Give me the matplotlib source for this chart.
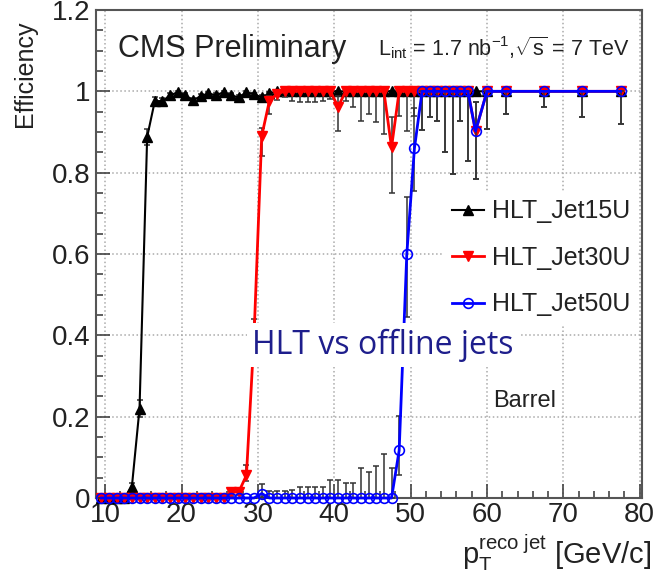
import numpy as np
import matplotlib
matplotlib.use("Agg")
import matplotlib.pyplot as plt
from matplotlib.ticker import MultipleLocator

plt.rcParams['font.family'] = ['Liberation Sans', 'DejaVu Sans']
plt.rcParams['mathtext.fontset'] = 'custom'
plt.rcParams['mathtext.rm'] = 'Liberation Sans'
plt.rcParams['mathtext.it'] = 'Liberation Sans:italic'

# bin centres (1 GeV bins up to 58, wider bins above)
pt = [9.5, 10.5, 11.5, 12.5, 13.5, 14.5, 15.5, 16.5, 17.5, 18.5, 19.5,
      20.5, 21.5, 22.5, 23.5, 24.5, 25.5, 26.5, 27.5, 28.5, 29.5,
      30.5, 31.5, 32.5, 33.5, 34.5, 35.5, 36.5, 37.5, 38.5, 39.5,
      40.5, 41.5, 42.5, 43.5, 44.5, 45.5, 46.5, 47.5, 48.5, 49.5,
      50.5, 51.5, 52.5, 53.5, 54.5, 55.5, 56.5, 57.5,
      58.5, 60.0, 62.5, 67.5, 72.5, 77.5]

# HLT_Jet15U
eff15 = [0, 0, 0, 0, 0.028, 0.22, 0.888, 0.976, 0.976, 0.99, 0.998,
         0.99, 0.978, 0.988, 0.995, 0.99, 0.998, 0.99, 0.985, 0.998, 0.993,
         0.985, 0.995, 1.0, 1.0, 1.0, 1.0, 1.0, 1.0, 1.0, 1.0,
         1.0, 1.0, 1.0, 1.0, 1.0, 1.0, 1.0, 1.0, 1.0, 1.0,
         1.0, 1.0, 1.0, 1.0, 1.0, 1.0, 1.0, 1.0,
         1.0, 1.0, 1.0, 1.0, 1.0, 1.0]
err15 = [0, 0, 0, 0, 0.01, 0.02, 0.02, 0.01, 0.008, 0.006, 0.004,
         0.005, 0.006, 0.005, 0.004, 0.005, 0.003, 0.005, 0.006, 0.003, 0.004,
         0.006, 0.004, 0, 0, 0, 0, 0, 0, 0, 0,
         0, 0, 0, 0, 0, 0, 0, 0, 0, 0,
         0, 0, 0, 0, 0, 0, 0, 0,
         0, 0, 0, 0, 0, 0]

# HLT_Jet30U
eff30 = [0, 0, 0, 0, 0, 0, 0, 0, 0, 0, 0,
         0, 0, 0, 0, 0, 0, 0.014, 0.015, 0.056, 0.40,
         0.89, 0.976, 0.994, 1.0, 1.0, 1.0, 1.0, 1.0, 1.0, 1.0,
         0.962, 1.0, 1.0, 1.0, 1.0, 1.0, 1.0, 0.862, 1.0, 1.0,
         1.0, 1.0, 1.0, 1.0, 1.0, 1.0, 1.0, 1.0,
         0.902, 1.0, 1.0, 1.0, 1.0, 1.0]
lo30 = [0, 0, 0, 0, 0, 0, 0, 0, 0, 0, 0,
        0, 0, 0, 0, 0, 0, 0.008, 0.008, 0.015, 0.05,
        0.05, 0.032, 0.015, 0.014, 0.023, 0.027, 0.027, 0.027, 0.023, 0.02,
        0.059, 0.023, 0.038, 0.073, 0.056, 0.076, 0.105, 0.111, 0.06, 0.097,
        0.06, 0.095, 0.063, 0.073, 0.15, 0.204, 0.073, 0.171,
        0.118, 0.093, 0.056, 0.039, 0.063, 0.08]
hi30 = [0, 0, 0, 0, 0, 0, 0, 0, 0, 0, 0,
        0, 0, 0, 0, 0, 0, 0.008, 0.008, 0.025, 0.04,
        0.02, 0.012, 0.005, 0, 0, 0, 0, 0, 0, 0,
        0.027, 0, 0, 0, 0, 0, 0, 0.075, 0, 0,
        0, 0, 0, 0, 0, 0, 0, 0,
        0.072, 0, 0, 0, 0, 0]

# HLT_Jet50U
eff50 = [0, 0, 0, 0, 0, 0, 0, 0, 0, 0, 0,
         0, 0, 0, 0, 0, 0, 0, 0, 0, 0,
         0.011, 0, 0, 0, 0, 0, 0, 0, 0, 0,
         0, 0, 0, 0, 0, 0, 0, 0, 0.117, 0.6,
         0.86, 1.0, 1.0, 1.0, 1.0, 1.0, 1.0, 1.0,
         0.902, 1.0, 1.0, 1.0, 1.0, 1.0]
lo50 = [0, 0, 0, 0, 0, 0, 0, 0, 0, 0, 0,
        0, 0, 0, 0, 0, 0, 0, 0, 0, 0,
        0.008, 0, 0, 0, 0, 0, 0, 0, 0, 0,
        0, 0, 0, 0, 0, 0, 0, 0, 0.06, 0.155,
        0.105, 0.095, 0.063, 0.073, 0.15, 0.204, 0.073, 0.171,
        0.118, 0.093, 0.056, 0.039, 0.063, 0.08]
hi50 = [0, 0, 0, 0, 0, 0, 0, 0, 0, 0, 0,
        0, 0, 0, 0, 0, 0, 0, 0, 0, 0,
        0.024, 0.018, 0.018, 0.018, 0.02, 0.026, 0.026, 0.026, 0.026, 0.045,
        0.045, 0.038, 0.038, 0.073, 0.064, 0.078, 0.107, 0.073, 0.085, 0.14,
        0.1, 0, 0, 0, 0, 0, 0, 0,
        0.072, 0, 0, 0, 0, 0]

fig = plt.figure(figsize=(6.54, 5.7), dpi=100)
ax = fig.add_axes([96/654, 72/570, 546/654, 488/570])

ebar = dict(fmt='none', ecolor='#333333', elinewidth=1.1, capsize=2.2, capthick=1.1)

# black
ax.errorbar(pt, eff15, yerr=err15, zorder=3, **ebar)
l15, = ax.plot(pt, eff15, color='black', lw=1.5, marker='^', ms=6.5,
               mfc='black', mec='black', label='HLT_Jet15U', zorder=4, clip_on=False)
# red
ax.errorbar(pt, eff30, yerr=[lo30, hi30], zorder=5, **ebar)
l30, = ax.plot(pt, eff30, color='red', lw=2, marker='v', ms=7,
               mfc='red', mec='red', label='HLT_Jet30U', zorder=6, clip_on=False)
# blue
ax.errorbar(pt, eff50, yerr=[lo50, hi50], zorder=7, **ebar)
l50, = ax.plot(pt, eff50, color='blue', lw=2, marker='o', ms=7, mew=1.2,
               mfc='none', mec='blue', label='HLT_Jet50U', zorder=8, clip_on=False)

ax.set_xlim(8.8, 80.3)
ax.set_ylim(0, 1.2)
ax.xaxis.set_major_locator(MultipleLocator(10))
ax.xaxis.set_minor_locator(MultipleLocator(2))
ax.yaxis.set_major_locator(MultipleLocator(0.2))
ax.yaxis.set_minor_locator(MultipleLocator(0.05))
ax.set_yticks([0, 0.2, 0.4, 0.6, 0.8, 1.0, 1.2])
ax.set_yticklabels(['0', '0.2', '0.4', '0.6', '0.8', '1', '1.2'])
ax.tick_params(which='both', direction='in', top=False, right=False,
               color='#444444', width=1.2, labelsize=20, labelcolor='#222222')
ax.tick_params(which='major', length=10)
ax.tick_params(which='minor', length=5)
ax.tick_params(axis='x', pad=3)
ax.tick_params(axis='y', pad=4)
ax.grid(True, which='major', color='#aaaaaa', ls=':', lw=1.1)
for s in ax.spines.values():
    s.set_color('#555555')
    s.set_linewidth(1.5)

fig.text(25/654, 1 - 127/570, 'Efficiency', rotation=90, ha='center', va='bottom',
         fontsize=18, color='#222222')
fig.text(651/654, 6/570, r'p$_{\mathrm{T}}^{\mathrm{reco\ jet}}$ [GeV/c]', ha='right',
         va='baseline', fontsize=21, color='#222222')

fig.text(118/654, 1 - 57/570, 'CMS Preliminary', fontsize=22, color='#222222', va='baseline')
fig.text(378/654, 1 - 55/570,
         r'L$_{\mathrm{int}}$ = 1.7 nb$^{\mathrm{-1}}$,$\sqrt{\mathrm{s}}$ = 7 TeV',
         fontsize=15.5, color='#222222', va='baseline')

leg = ax.legend(handles=[l15, l30, l50], loc='upper left',
                bbox_to_anchor=(444/654, 1 - 192/570), bbox_transform=fig.transFigure,
                fontsize=18, handlelength=1.3, handletextpad=0.3, labelspacing=0.9,
                borderpad=0.3, borderaxespad=0, frameon=True, fancybox=False)
leg.get_frame().set_facecolor('white')
leg.get_frame().set_edgecolor('none')
leg.get_frame().set_alpha(1)
for t in leg.get_texts():
    t.set_color('#222222')

fig.text(383/654, 1 - 345/570, 'HLT vs offline jets', ha='center', va='center',
         fontsize=23, color='#1e1e8c', family=['Open Sans', 'DejaVu Sans'], zorder=20,
         bbox=dict(facecolor='white', edgecolor='none', pad=4))
fig.text(493/654, 1 - 407/570, 'Barrel', fontsize=17, color='#222222', va='baseline')

fig.savefig('out.png', dpi=100)
